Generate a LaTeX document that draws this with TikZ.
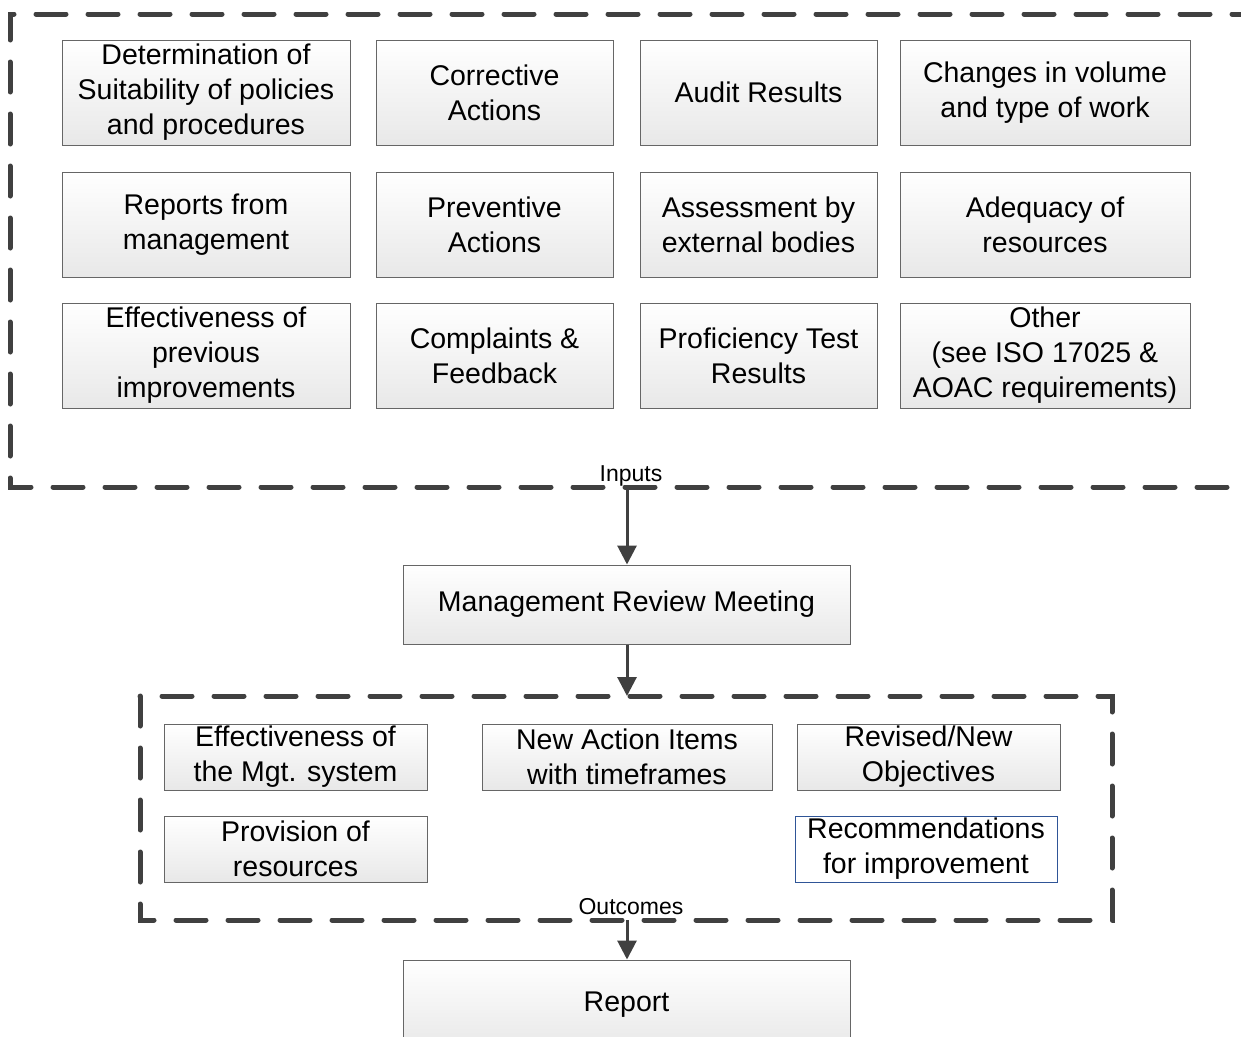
\documentclass[tikz,border=0pt]{standalone}
\usepackage{fontspec}
\setmainfont{Liberation Sans}
\usetikzlibrary{positioning, calc, arrows.meta}
\tikzset{inbox/.style={draw=black!60, line width=1pt, top color=white, bottom color=black!9, align=center, inner sep=0pt, font=\fontsize{28.5}{35}\selectfont}}
\tikzset{bigbox/.style={inbox, minimum height=105pt}}
\tikzset{smallbox/.style={inbox, minimum height=66pt}}
\tikzset{frame/.style={draw=black!75, line width=5pt, line cap=round, dash pattern=on 30pt off 22pt}}
\tikzset{flow/.style={draw=black!75, line width=3pt, -{Triangle[width=19pt,length=19pt]}}}
\tikzset{tag/.style={font=\fontsize{23}{27}\selectfont, inner sep=0pt, anchor=base}}
\definecolor{recblue}{RGB}{47,85,151}

\begin{document}
\begin{tikzpicture}[x=1pt, y=-1pt]
  \useasboundingbox (0,0) rectangle (1241,1036);

  % inputs
  \node[bigbox, minimum width=288pt] (suit) at (206,92.5) {Determination of\\Suitability of policies\\and procedures};
  \node[bigbox, minimum width=237pt] (corr) at (494.5,92.5) {Corrective\\Actions};
  \node[bigbox, minimum width=237pt] (audit) at (758.5,92.5) {Audit Results};
  \node[bigbox, minimum width=290pt] (volume) at (1045,92.5) {Changes in volume\\and type of work};

  \node[bigbox, minimum width=288pt] (reports) at (206,224.5) {Reports from\\management};
  \node[bigbox, minimum width=237pt] (prev) at (494.5,224.5) {Preventive\\Actions};
  \node[bigbox, minimum width=237pt] (assess) at (758.5,224.5) {Assessment by\\external bodies};
  \node[bigbox, minimum width=290pt] (adeq) at (1045,224.5) {Adequacy of\\resources};

  \node[bigbox, minimum width=288pt] (effprev) at (206,355.5) {Effectiveness of\\previous\\improvements};
  \node[bigbox, minimum width=237pt] (compl) at (494.5,355.5) {Complaints \&\\Feedback};
  \node[bigbox, minimum width=237pt] (prof) at (758.5,355.5) {Proficiency Test\\Results};
  \node[bigbox, minimum width=290pt] (other) at (1045,355.5) {Other\\(see ISO 17025 \&\\AOAC requirements)};

  \draw[frame] (1262,14) -- (10,14) -- (10,487) -- (1262,487);
  \coordinate (inputs) at (627,487);
  \node[tag] (inlabel) at (631,481) {Inputs};

  % meeting
  \node[inbox, minimum width=447pt, minimum height=79pt] (mrm) at (626.5,604.5) {Management Review Meeting};
  \draw[flow] (inputs) -- (inputs |- mrm.north);

  % outcomes
  \draw[frame] (140,696) rectangle (1112,920);
  \coordinate (outtop) at (627,696);
  \coordinate (outcomes) at (627,920);
  \node[tag] (outlabel) at (631,914) {Outcomes};
  \draw[flow] (mrm.south -| outtop) -- (outtop);

  \node[smallbox, minimum width=263pt] (effmgt) at (295.5,757) {Effectiveness of\\the Mgt. system};
  \node[smallbox, minimum width=290pt] (newact) at (627,757) {New Action Items\\with timeframes};
  \node[smallbox, minimum width=263pt] (obj) at (928.5,757) {Revised/New\\Objectives};
  \node[smallbox, minimum width=263pt] (prov) at (295.5,849) {Provision of\\resources};
  \node[smallbox, minimum width=262pt, draw=recblue, fill=white, top color=white, bottom color=white] (recomm) at (926,849) {Recommendations\\for improvement};

  % report
  \node[inbox, minimum width=447pt, minimum height=90pt] (report) at (626.5,1005) {Report};
  \draw[flow] (outcomes) -- (outcomes |- report.north);
\end{tikzpicture}
\end{document}
